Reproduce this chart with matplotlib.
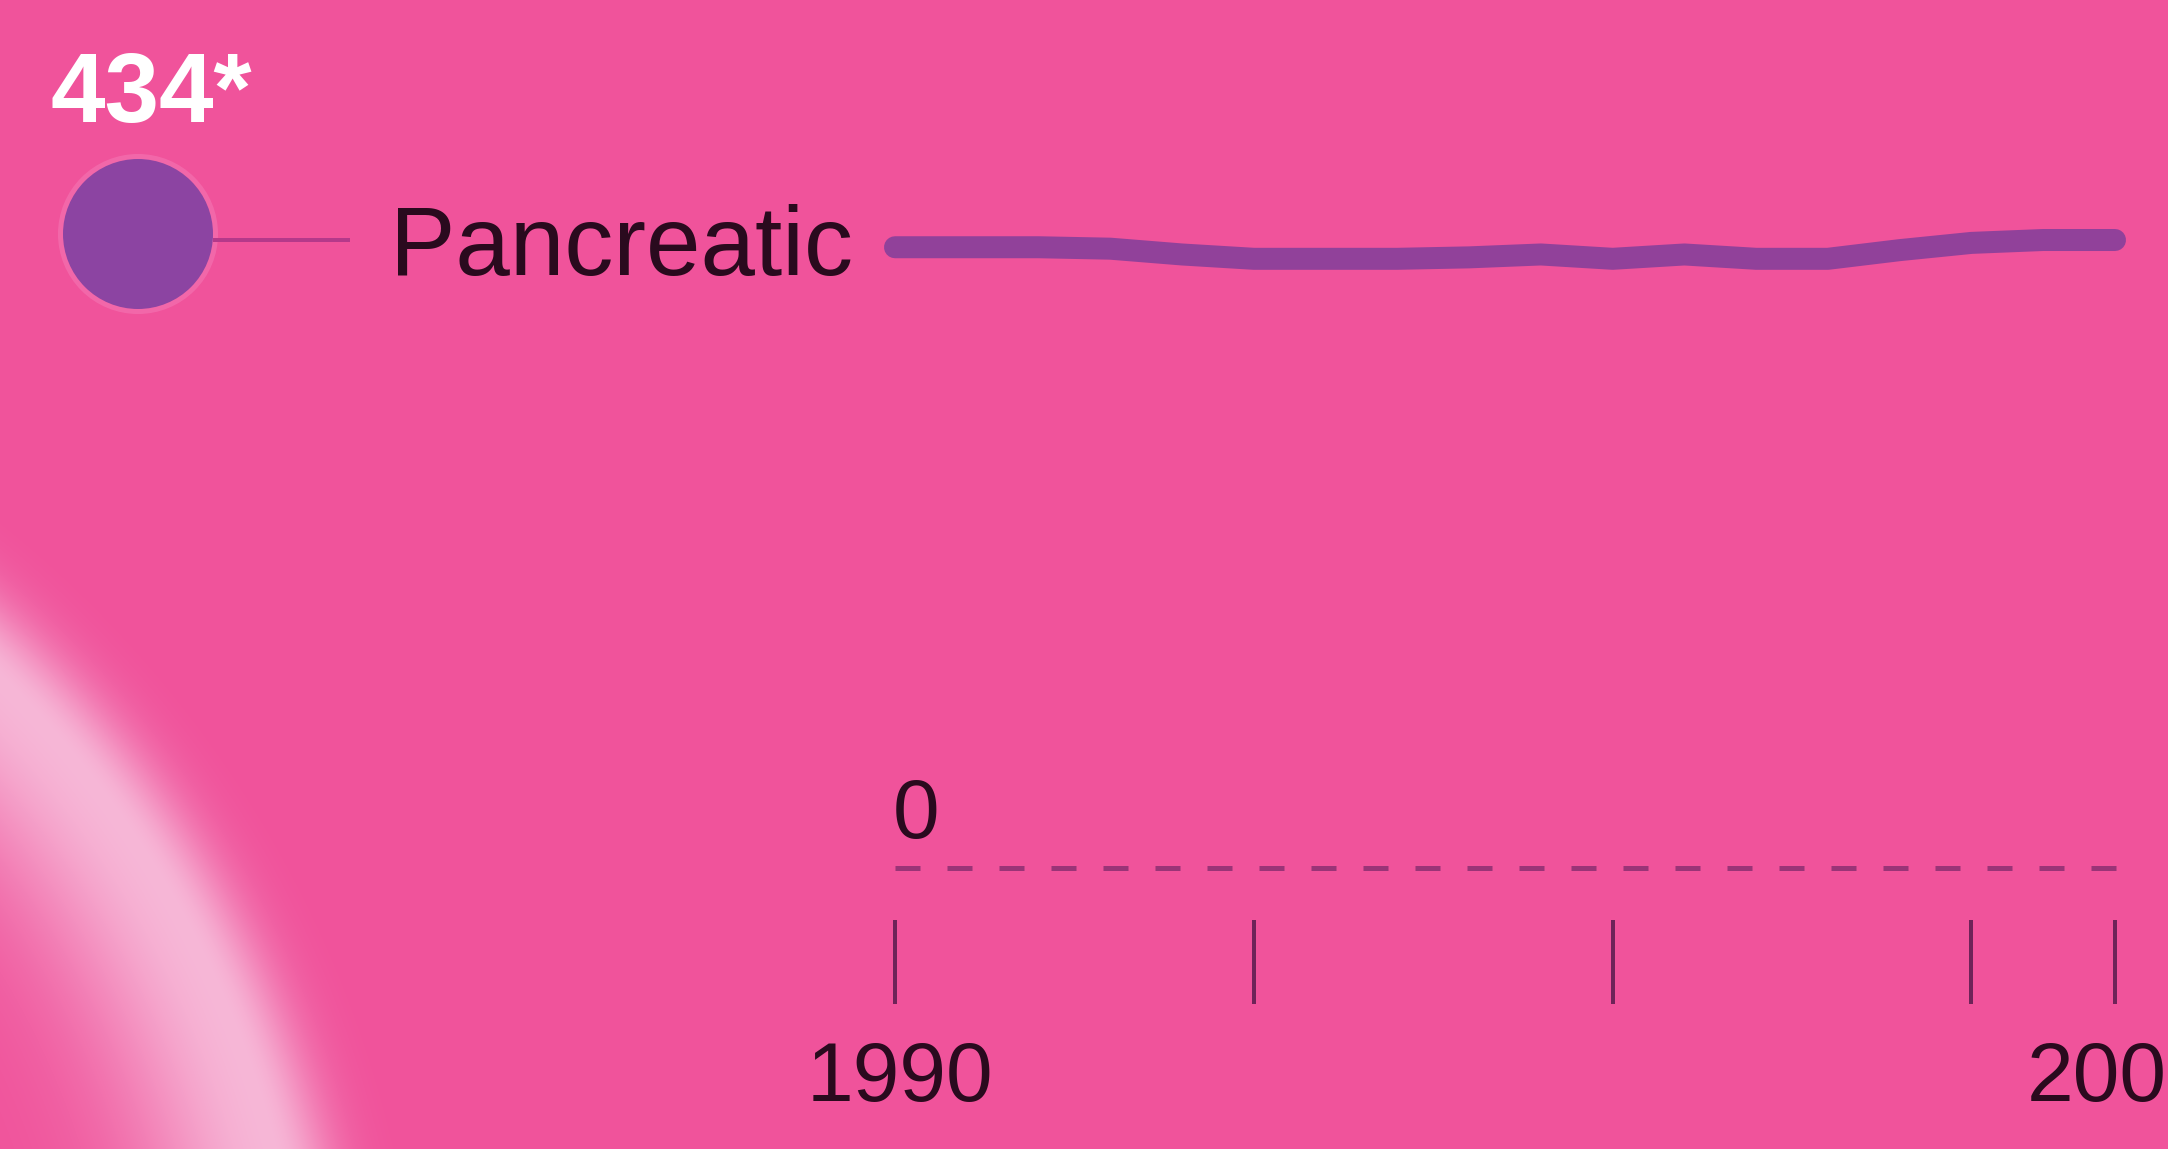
import numpy as np
import matplotlib
matplotlib.use("Agg")
import matplotlib.pyplot as plt
from matplotlib.patches import Circle

# ---- data -------------------------------------------------------------
category = "Pancreatic"
years = [1990, 1991, 1992, 1993, 1994, 1995, 1996, 1997, 1998,
         1999, 2000, 2001, 2002, 2003, 2004, 2005, 2006, 2007]
values = [429, 429, 429, 428, 424, 421, 421, 421, 422,
          424, 421, 424, 421, 421, 427, 432, 434, 434]
tick_years = [1990, 1995, 2000, 2005, 2007]
labelled_years = [1990, 2007]

# ---- styling ----------------------------------------------------------
W, H, DPI = 2168, 1149, 100
BG = "#F0539B"
LINE_C = "#91419A"
DOT_C = "#8C44A2"
TEXT_C = "#2A0A1E"
TICK_C = "#6E2358"
ZERO_C = "#9A3477"
PX = 72.0 / DPI  # points per pixel

fig = plt.figure(figsize=(W / DPI, H / DPI), dpi=DPI, facecolor=BG)

# background layer in pixel coordinates (soft highlight + legend dot)
bg = fig.add_axes([0, 0, 1, 1], zorder=0)
bg.set_xlim(0, W)
bg.set_ylim(H, 0)
bg.set_facecolor(BG)
bg.axis("off")

# soft light arc in the lower-left corner
gw, gh = 520, H
yy, xx = np.mgrid[0:gh, 0:gw] + 0.5
r = np.hypot(xx + 700.0, yy - 1400.0)
s = r - 1005.0
alpha = np.where(s > 0, np.exp(-0.5 * (s / 40.0) ** 2),
                 np.exp(-0.5 * (s / 95.0) ** 2)) * 0.82
glow = np.zeros((gh, gw, 4))
glow[..., 0] = 248 / 255
glow[..., 1] = 205 / 255
glow[..., 2] = 228 / 255
glow[..., 3] = alpha
bg.imshow(glow, extent=(0, gw, gh, 0), interpolation="bilinear", zorder=1)
bg.set_xlim(0, W)
bg.set_ylim(H, 0)
bg.set_aspect("auto")

# legend dot, connector and category name
bg.add_patch(Circle((138, 234), 80, color="#F579B6", alpha=0.55, lw=0, zorder=2))
bg.add_patch(Circle((138, 234), 75, color=DOT_C, lw=0, zorder=3))
bg.plot([213, 350], [240, 240], color="#B5398A", lw=4 * PX,
        solid_capstyle="butt", zorder=2)
bg.text(390, 275, category, fontsize=98 * PX, family="Liberation Sans",
        color=TEXT_C, ha="left", va="baseline", zorder=4)
bg.text(50, 122, f"{values[-1]}*", fontsize=98 * PX, family="Liberation Sans",
        fontweight="bold", color="white", ha="left", va="baseline", zorder=4)

# ---- data axes ----------------------------------------------------------
px_per_year = (2115 - 895) / (tick_years[-1] - tick_years[0])
px_per_unit = 1.447
x0 = years[0] - 895 / px_per_year
y0 = -(H - 868) / px_per_unit

ax = fig.add_axes([0, 0, 1, 1], zorder=1)
ax.set_xlim(x0, x0 + W / px_per_year)
ax.set_ylim(y0, y0 + H / px_per_unit)
ax.patch.set_alpha(0)
ax.axis("off")

ax.plot(years, values, color=LINE_C, lw=22 * PX,
        solid_capstyle="round", solid_joinstyle="round")

# dashed zero baseline
lw0 = 5 * PX
ax.hlines(0, years[0], years[-1] + 0.08, color=ZERO_C, lw=lw0,
          linestyles=[(0, (25 * PX / lw0, 27 * PX / lw0))], capstyle="butt")
ax.text(years[0] - 0.03, 30 / px_per_unit, "0", fontsize=84 * PX,
        family="Liberation Sans", color=TEXT_C, ha="left", va="baseline")

# year ticks below the baseline
ax.vlines(tick_years, -(1004 - 868) / px_per_unit, -(920 - 868) / px_per_unit,
          color=TICK_C, lw=4 * PX)
for yr in labelled_years:
    ax.text(yr + 0.07, -(1101 - 868) / px_per_unit, str(yr), fontsize=84 * PX,
            family="Liberation Sans", color=TEXT_C, ha="center", va="baseline")

fig.savefig("out.png", dpi=DPI, facecolor=BG)
